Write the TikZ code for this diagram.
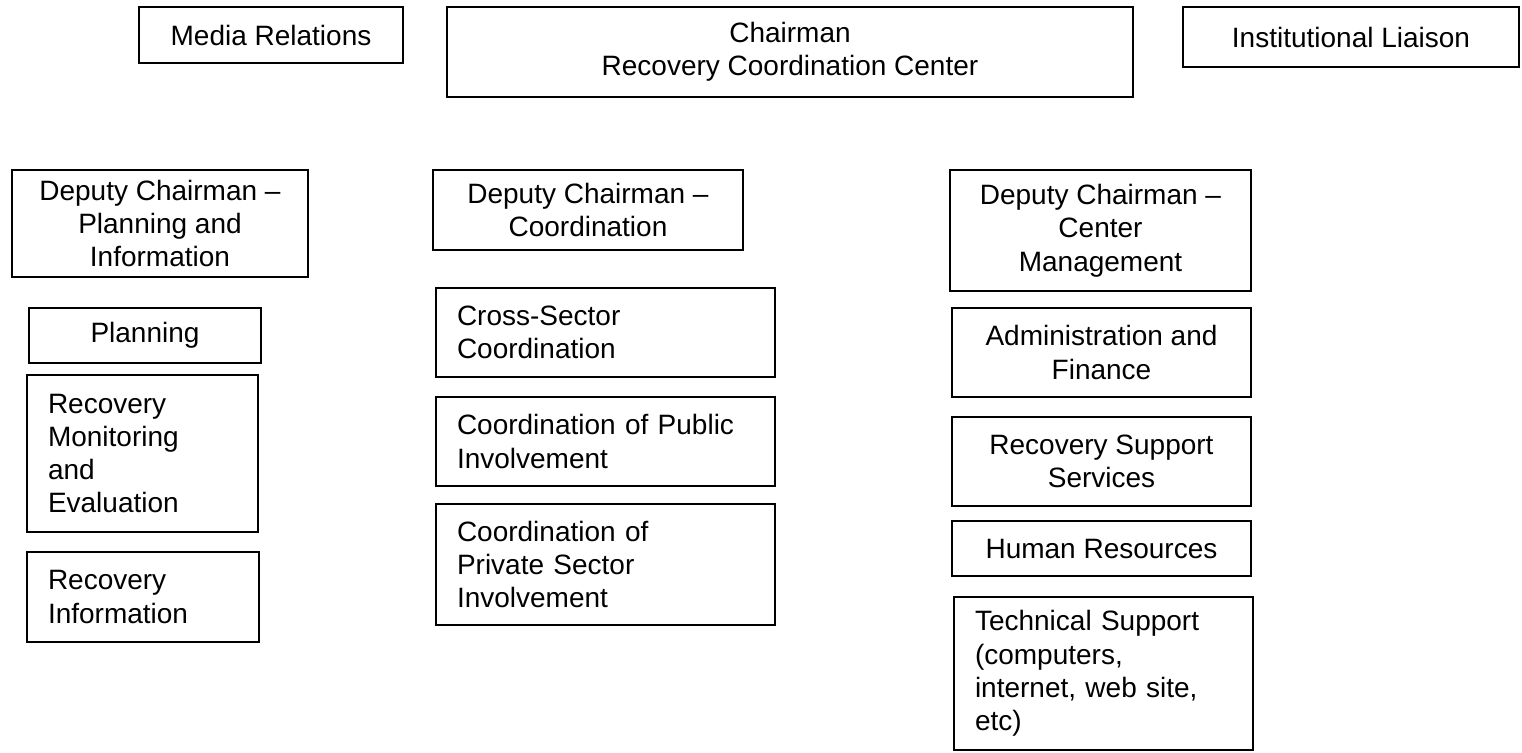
\documentclass[tikz,border=0pt]{standalone}
\usepackage{fontspec}
\setmainfont{Liberation Sans}
\usetikzlibrary{positioning}

\begin{document}
\begin{tikzpicture}[x=0.5pt, y=-0.5pt,
  orgbox/.style={draw, line width=1pt, inner sep=0pt, align=center,
    font=\fontsize{14}{16.65}\selectfont},
  orgboxleft/.style={orgbox, align=left, inner xsep=10.5pt}]
  \useasboundingbox (0,0) rectangle (1522,752);

  % Top level
  \node[orgbox, minimum width=132pt, minimum height=28pt] (media) at (271,35) {Media Relations};
  \node[orgbox, minimum width=343pt, minimum height=45pt] (chair) at (790,52) {Chairman\\Recovery Coordination Center};
  \node[orgbox, minimum width=168pt, minimum height=30pt] (liaison) at (1351,37) {Institutional Liaison};

  % Deputy chairmen
  \node[orgbox, minimum width=148pt, minimum height=53.5pt] (dcplan) at (160,223.5) {Deputy Chairman --\\Planning and\\Information};
  \node[orgbox, minimum width=155pt, minimum height=40pt] (dccoord) at (588,210) {Deputy Chairman --\\Coordination};
  \node[orgbox, minimum width=150.5pt, minimum height=60.5pt] (dcctr) at (1100.5,230.5) {Deputy Chairman --\\Center\\Management};

  % Planning and information units
  \node[orgbox, minimum width=116pt, minimum height=27.5pt] (plan) at (145,335.5) {Planning};
  \node[orgboxleft, text width=94.5pt, minimum height=78.5pt] (monit) at (142.5,453.5) {Recovery\\Monitoring\\and\\Evaluation};
  \node[orgboxleft, text width=95pt, minimum height=45pt] (rinfo) at (143,597) {Recovery\\Information};

  % Coordination units
  \node[orgboxleft, text width=148.5pt, minimum height=44.5pt] (cross) at (605.5,332.5) {Cross-Sector\\Coordination};
  \node[orgboxleft, text width=148.5pt, minimum height=44.5pt] (public) at (605.5,441.5) {Coordination of Public\\Involvement};
  \node[orgboxleft, text width=148.5pt, minimum height=60.5pt] (private) at (605.5,564.5) {Coordination of\\Private Sector\\Involvement};

  % Center management units
  \node[orgbox, minimum width=149.5pt, minimum height=44.5pt] (admin) at (1101.5,352.5) {Administration and\\Finance};
  \node[orgbox, minimum width=149.5pt, minimum height=44.5pt] (support) at (1101.5,461.5) {Recovery Support\\Services};
  \node[orgbox, minimum width=149.5pt, minimum height=27.5pt] (hr) at (1101.5,548.5) {Human Resources};
  \node[orgboxleft, text width=128.5pt, minimum height=76.5pt] (tech) at (1103.5,673.5) {Technical Support\\(computers,\\internet, web site,\\etc)};

\end{tikzpicture}
\end{document}
